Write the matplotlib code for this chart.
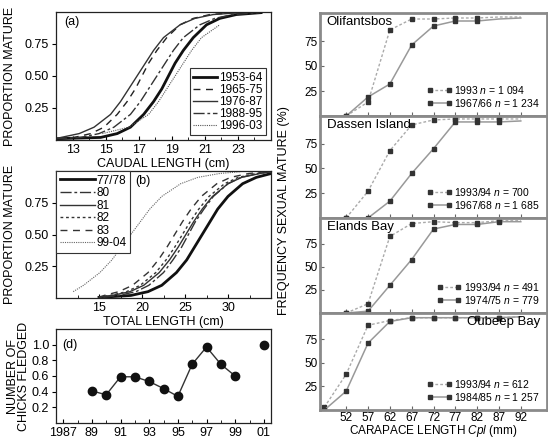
import numpy as np
import matplotlib
matplotlib.use("Agg")
import matplotlib.pyplot as plt
from matplotlib.ticker import MultipleLocator

plt.rcParams['font.family'] = ['Liberation Sans', 'DejaVu Sans']
plt.rcParams['mathtext.fontset'] = 'custom'
plt.rcParams['mathtext.rm'] = 'Liberation Sans'
plt.rcParams['mathtext.it'] = 'Liberation Sans:italic'
plt.rcParams['font.size'] = 9

# ---- panel (a): proportion mature vs caudal length (x read at fixed proportions)
a_p = [0.01, 0.02, 0.05, 0.1, 0.2, 0.3, 0.4, 0.5, 0.6, 0.7, 0.8, 0.9, 0.95, 0.98, 0.995]
a_labels = ['1953-64', '1965-75', '1976-87', '1988-95', '1996-03']
a_x_5364 = [12.0, 14.7, 15.7, 16.5, 17.3, 17.9, 18.4, 18.8, 19.2, 19.7, 20.3, 21.1, 21.9, 22.9, 24.4]
a_x_6575 = [12.2, 13.1, 14.1, 14.9, 15.7, 16.3, 16.8, 17.2, 17.6, 18.1, 18.7, 19.5, 20.3, 21.3, 22.8]
a_x_7687 = [12.0, 12.3, 13.4, 14.3, 15.3, 15.9, 16.4, 16.9, 17.4, 17.9, 18.5, 19.5, 20.4, 21.5, 23.1]
a_x_8895 = [12.0, 13.5, 14.6, 15.5, 16.5, 17.1, 17.6, 18.1, 18.6, 19.1, 19.7, 20.7, 21.6, 22.7, 24.3]
a_x_9603 = [np.nan, np.nan, 14.8, 16.4, 17.6, 18.2, 18.7, 19.2, 19.7, 20.2, 20.8, 21.9, np.nan, np.nan, np.nan]

# ---- panel (b): proportion mature vs total length
b_p = [0.005, 0.02, 0.05, 0.1, 0.2, 0.3, 0.4, 0.5, 0.6, 0.7, 0.8, 0.9, 0.95, 0.98, 0.995]
b_labels = ['77/78', '80', '81', '82', '83', '99-04']
b_x_7778 = [15.0, 18.7, 20.7, 22.3, 24.0, 25.2, 26.1, 27.0, 27.9, 28.8, 30.0, 31.7, 33.3, 35.0, np.nan]
b_x_80 = [15.5, 17.3, 19.3, 20.8, 22.5, 23.6, 24.6, 25.4, 26.2, 27.2, 28.3, 30.0, 31.5, 33.5, 35.0]
b_x_81 = [15.0, 16.5, 18.6, 20.2, 22.0, 23.2, 24.2, 25.1, 26.0, 27.0, 28.2, 30.0, 31.6, 33.7, 35.0]
b_x_82 = [15.0, 16.3, 18.2, 19.8, 21.6, 22.8, 23.8, 24.7, 25.6, 26.6, 27.8, 29.6, 31.2, 33.3, 35.0]
b_x_83 = [15.0, 15.6, 17.3, 18.9, 20.7, 21.9, 22.9, 23.8, 24.7, 25.7, 26.9, 28.7, 30.3, 32.4, 34.5]
b_x_9904 = [np.nan, np.nan, 12.0, 13.2, 15.1, 16.5, 17.6, 18.7, 19.8, 20.9, 22.3, 24.5, 26.5, 29.0, 31.5]

# ---- panel (d): chicks fledged
d_years = [1989, 1990, 1991, 1992, 1993, 1994, 1995, 1996, 1997, 1998, 1999]
d_chicks = [0.41, 0.36, 0.59, 0.59, 0.53, 0.44, 0.34, 0.75, 0.97, 0.75, 0.60]
d_year_extra = [2001]
d_chicks_extra = [1.0]
d_ticks = [1987, 1989, 1991, 1993, 1995, 1997, 1999, 2001]
d_ticklabels = ['1987', '89', '91', '93', '95', '97', '99', '01']

# ---- right column: frequency sexually mature vs carapace length
cl = [47, 52, 57, 62, 67, 72, 77, 82, 87, 92]
sites = ['Olifantsbos', 'Dassen Island', 'Elands Bay', 'Oubeep Bay']
recent = [
    [np.nan, 0, 14, 86, 97, 97, 98, 98, 99, 99],
    [np.nan, 0, 27, 68, 94, 99, 100, 100, 100, 100],
    [np.nan, 0, 10, 83, 97, 99, 98, 98, 100, 100],
    [3, 38, 90, 95, 98, 98, 98, 98, 98, 99],
]
older = [
    [np.nan, 0, 19, 32, 71, 90, 95, 95, 97, 98],
    [np.nan, 0, 0, 17, 45, 70, 97, 97, 97, 98],
    [np.nan, 0, 2, 30, 58, 91, 96, 96, 99, 99],
    [0, 20, 71, 94, 98, 98, 98, 98, 98, 99],
]
recent_labels = [r'1993 $n$ = 1 094', r'1993/94 $n$ = 700', r'1993/94 $n$ = 491', r'1993/94 $n$ = 612']
older_labels = [r'1967/66 $n$ = 1 234', r'1967/68 $n$ = 1 685', r'1974/75 $n$ = 779', r'1984/85 $n$ = 1 257']
last_marked = [82, 87, 87, 87]

W, H = 548, 438
fig = plt.figure(figsize=(W / 100, H / 100), dpi=100)


def box(left, top, right, bottom):
    return [left / W, 1 - bottom / H, (right - left) / W, (bottom - top) / H]


def left_style(ax):
    for s in ax.spines.values():
        s.set_linewidth(0.9)
        s.set_color('#222222')
    ax.tick_params(axis='x', which='both', direction='in', length=3, pad=3)
    ax.tick_params(axis='x', which='minor', length=2)
    ax.tick_params(axis='y', direction='out', length=3, pad=2)
    ax.yaxis.set_label_coords(-0.186, 0.5)


# panel (a)
ax = fig.add_axes(box(56, 12, 271, 140))
a_styles = [dict(color='#111111', lw=2.0, ls='-'),
            dict(color='#222222', lw=1.0, ls=(0, (5, 4))),
            dict(color='#333333', lw=1.0, ls='-'),
            dict(color='#333333', lw=1.0, ls=(0, (8, 2, 2, 2))),
            dict(color='#555555', lw=0.8, ls=(0, (1, 1)))]
for xs, lab, st in zip([a_x_5364, a_x_6575, a_x_7687, a_x_8895, a_x_9603], a_labels, a_styles):
    ax.plot(xs, a_p, label=lab, **st)
ax.set_xlim(12, 25)
ax.set_ylim(0, 1.0)
ax.set_xticks([13, 15, 17, 19, 21, 23])
ax.xaxis.set_minor_locator(MultipleLocator(1))
ax.set_yticks([0.25, 0.5, 0.75])
ax.set_yticklabels(['0.25', '0.50', '0.75'])
ax.set_xlabel('CAUDAL LENGTH (cm)', labelpad=1)
ax.set_ylabel('PROPORTION MATURE')
left_style(ax)
ax.text(0.04, 0.9, '(a)', transform=ax.transAxes, fontsize=9)
leg = ax.legend(loc='lower right', fontsize=8.5, handlelength=2.0, labelspacing=0.0,
                handletextpad=0.2, borderpad=0.3, borderaxespad=0.4, fancybox=False, framealpha=1)
leg.get_frame().set_edgecolor('#333333')
leg.get_frame().set_linewidth(0.8)

# panel (b)
ax = fig.add_axes(box(56, 171, 271, 298))
b_styles = [dict(color='#111111', lw=2.0, ls='-'),
            dict(color='#333333', lw=1.0, ls=(0, (8, 2, 2, 2))),
            dict(color='#333333', lw=1.0, ls='-'),
            dict(color='#333333', lw=1.0, ls=(0, (2, 2))),
            dict(color='#333333', lw=1.0, ls=(0, (5, 4))),
            dict(color='#666666', lw=0.8, ls=(0, (1, 1)))]
for xs, lab, st in zip([b_x_7778, b_x_80, b_x_81, b_x_82, b_x_83, b_x_9904], b_labels, b_styles):
    ax.plot(xs, b_p, label=lab, **st)
ax.set_xlim(10, 35)
ax.set_ylim(0, 1.0)
ax.set_xticks([15, 20, 25, 30])
ax.xaxis.set_minor_locator(MultipleLocator(2.5))
ax.set_yticks([0.25, 0.5, 0.75])
ax.set_yticklabels(['0.25', '0.50', '0.75'])
ax.set_xlabel('TOTAL LENGTH (cm)', labelpad=1)
ax.set_ylabel('PROPORTION MATURE')
left_style(ax)
ax.text(0.37, 0.9, '(b)', transform=ax.transAxes, fontsize=9)
leg = ax.legend(loc='upper left', fontsize=8.5, handlelength=3.0, labelspacing=0.05,
                handletextpad=0.1, borderpad=0.3, borderaxespad=0.0, fancybox=False, framealpha=1)
leg.get_frame().set_edgecolor('#333333')
leg.get_frame().set_linewidth(0.8)

# panel (d)
ax = fig.add_axes(box(56, 329, 271, 423))
ax.plot(d_years, d_chicks, color='#333333', lw=1.0, marker='o', ms=6, mfc='#111111', mec='#111111')
ax.plot(d_year_extra, d_chicks_extra, ls='none', marker='o', ms=6, mfc='#111111', mec='#111111')
ax.set_xlim(1986.5, 2001.5)
ax.set_ylim(0, 1.2)
ax.set_xticks(d_ticks)
ax.set_xticklabels(d_ticklabels)
ax.xaxis.set_minor_locator(MultipleLocator(1))
ax.set_yticks([0.2, 0.4, 0.6, 0.8, 1.0])
ax.set_ylabel('NUMBER OF\nCHICKS FLEDGED', linespacing=0.9)
left_style(ax)
ax.yaxis.set_label_coords(-0.12, 0.5)
ax.text(0.03, 0.8, '(d)', transform=ax.transAxes, fontsize=9)

# right column
bounds = [(13, 116), (116, 218), (218, 313), (313, 410)]
for i, (top, bottom) in enumerate(bounds):
    ax = fig.add_axes(box(320, top, 547, bottom))
    rec = np.array(recent[i], dtype=float)
    old = np.array(older[i], dtype=float)
    x = np.array(cl)
    mk = [j for j in range(len(cl)) if cl[j] <= last_marked[i] and not np.isnan(rec[j])]
    mk_o = [j for j in range(len(cl)) if cl[j] <= last_marked[i] and not np.isnan(old[j])]
    ok = ~np.isnan(rec)
    ax.plot(x[ok], rec[ok], color='#aaaaaa', lw=1.0, ls=(0, (2, 1.5)), marker='s', ms=3.5,
            mfc='#333333', mec='#333333', markevery=[k for k, j in enumerate(np.where(ok)[0]) if j in mk],
            label=recent_labels[i])
    ok = ~np.isnan(old)
    ax.plot(x[ok], old[ok], color='#999999', lw=1.1, ls='-', marker='s', ms=3.5,
            mfc='#333333', mec='#333333', markevery=[k for k, j in enumerate(np.where(ok)[0]) if j in mk_o],
            label=older_labels[i])
    ax.set_xlim(46, 98)
    ax.set_ylim(0, 103)
    ax.set_yticks([25, 50, 75])
    ax.set_xticks([52, 57, 62, 67, 72, 77, 82, 87, 92])
    for s in ax.spines.values():
        s.set_linewidth(2.0)
        s.set_color('#8a8a8a')
    ax.tick_params(direction='in', length=3, color='#666666', pad=1.5, labelsize=8.5)
    if i < 3:
        ax.set_xticklabels([])
        ax.text(0.03, 0.97, sites[i], transform=ax.transAxes, ha='left', va='top', fontsize=9.5)
    else:
        ax.text(0.97, 0.97, sites[i], transform=ax.transAxes, ha='right', va='top', fontsize=9.5)
    ax.legend(loc='lower right', fontsize=7.5, frameon=False, numpoints=2, handlelength=2.4,
              labelspacing=0.1, handletextpad=0.2, borderaxespad=0.3)

fig.text(284 / W, 1 - 211 / H, 'FREQUENCY SEXUAL MATURE (%)', rotation=90, ha='center', va='center')
fig.text(433 / W, 1 - 431 / H, 'CARAPACE LENGTH $Cpl$ (mm)', ha='center', va='center', fontsize=8.5)

fig.savefig('out.png', dpi=100)
